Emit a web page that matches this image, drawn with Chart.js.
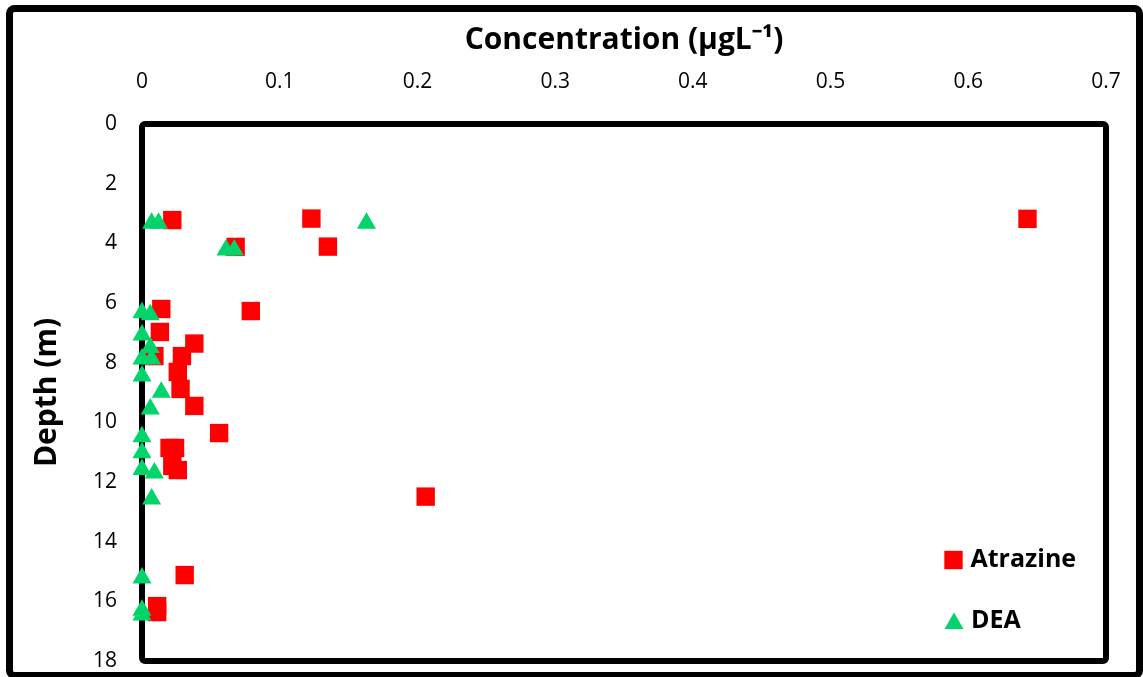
<!DOCTYPE html>
<html>
<head>
<meta charset="utf-8">
<script src="https://cdn.jsdelivr.net/npm/chart.js@4"></script>
<style>
  body { margin: 0; background: #fff; }
  #wrap { width: 1143px; height: 677px; position: relative; }
</style>
</head>
<body>
<div id="wrap"><canvas id="depthChart"></canvas></div>
<script>
// values
const atrazineConc = [0.022, 0.123, 0.643, 0.135, 0.068, 0.014, 0.079, 0.013, 0.038, 0.009, 0.029,
  0.026, 0.028, 0.038, 0.056, 0.020, 0.024, 0.022, 0.026, 0.206, 0.031, 0.011, 0.011];
const atrazineDepth = [3.22, 3.17, 3.18, 4.11, 4.12, 6.2, 6.27, 6.97, 7.36, 7.78, 7.78,
  8.31, 8.88, 9.45, 10.36, 10.86, 10.86, 11.46, 11.6, 12.49, 15.12, 16.16, 16.36];

const deaConc = [0.007, 0.012, 0.163, 0.061, 0.067, 0, 0.006, 0, 0.006, 0, 0.007,
  0, 0.014, 0.006, 0, 0, 0, 0.009, 0.007, 0, 0, 0];
const deaDepth = [3.33, 3.33, 3.33, 4.22, 4.22, 6.33, 6.39, 7.07, 7.49, 7.88, 7.88,
  8.45, 8.99, 9.55, 10.48, 11.02, 11.58, 11.7, 12.57, 15.22, 16.3, 16.46];

const xTickLabels = ['0', '0.1', '0.2', '0.3', '0.4', '0.5', '0.6', '0.7'];
const yTickLabels = ['0', '2', '4', '6', '8', '10', '12', '14', '16', '18'];

const RED = '#FF0000';
const GREEN = '#00D46A';

function pairs(xs, ys) {
  return xs.map((v, i) => ({ x: v, y: ys[i] }));
}

function labelFor(list, v) {
  return list.find(t => Math.abs(Number(t) - v) < 1e-6) ?? '';
}

// plot box and picture frame
const framePlugin = {
  id: 'frames',
  beforeDatasetsDraw(chart) {
    const { ctx, chartArea: a } = chart;
    ctx.save();
    ctx.strokeStyle = '#000';
    ctx.lineWidth = 6;
    ctx.beginPath();
    ctx.roundRect(a.left, a.top, a.right - a.left, a.bottom - a.top, 3);
    ctx.stroke();
    ctx.lineWidth = 7;
    ctx.beginPath();
    ctx.roundRect(9.5, 8.5, 1130, 667, 5);
    ctx.stroke();
    ctx.restore();
  }
};

// legend inside the plot, lower right
const legendPlugin = {
  id: 'cornerLegend',
  afterDatasetsDraw(chart) {
    const { ctx } = chart;
    const spots = [{ x: 953.5, y: 560 }, { x: 954, y: 623.5 }];
    ctx.save();
    chart.data.datasets.forEach((ds, i) => {
      const p = spots[i];
      ctx.fillStyle = ds.backgroundColor;
      ctx.strokeStyle = ds.borderColor;
      Chart.helpers.drawPoint(ctx, {
        pointStyle: ds.pointStyle, radius: ds.pointRadius, rotation: 0, borderWidth: 0
      }, p.x, p.y);
      ctx.fillStyle = '#000';
      ctx.font = 'bold 25px "Open Sans"';
      ctx.textBaseline = 'middle';
      ctx.textAlign = 'left';
      ctx.fillText(ds.label, p.x + 17, i === 0 ? p.y : p.y - 2.5);
    });
    ctx.restore();
  }
};

new Chart(document.getElementById('depthChart'), {
  type: 'scatter',
  data: {
    datasets: [
      {
        label: 'Atrazine',
        data: pairs(atrazineConc, atrazineDepth),
        pointStyle: 'rect',
        pointRadius: 13,
        backgroundColor: RED,
        borderColor: RED,
        borderWidth: 0,
        order: 1,
        clip: false
      },
      {
        label: 'DEA',
        data: pairs(deaConc, deaDepth),
        pointStyle: 'triangle',
        pointRadius: 11,
        backgroundColor: GREEN,
        borderColor: GREEN,
        borderWidth: 0,
        order: 0,
        clip: false
      }
    ]
  },
  options: {
    responsive: true,
    maintainAspectRatio: false,
    animation: false,
    layout: { padding: { left: 0, top: 0, right: 37, bottom: 16 } },
    plugins: {
      legend: { display: false },
      tooltip: { enabled: false }
    },
    scales: {
      x: {
        type: 'linear',
        position: 'top',
        min: 0,
        max: 0.7,
        grid: { display: false, drawTicks: false },
        border: { display: false },
        ticks: {
          stepSize: 0.1,
          padding: 29,
          color: '#000',
          font: { family: 'Open Sans', size: 21 },
          callback: v => labelFor(xTickLabels, v)
        },
        title: {
          display: true,
          text: 'Concentration (µgL⁻¹)',
          color: '#000',
          font: { family: 'Open Sans', size: 30, weight: 'bold' },
          padding: { top: 22, bottom: 0 }
        },
        afterFit: s => { s.height = 124; s.paddingLeft = 0; s.paddingRight = 0; }
      },
      y: {
        type: 'linear',
        reverse: true,
        min: 0,
        max: 18,
        grid: { display: false, drawTicks: false },
        border: { display: false },
        ticks: {
          stepSize: 2,
          padding: 25,
          color: '#000',
          font: { family: 'Open Sans', size: 21 },
          callback: v => labelFor(yTickLabels, v)
        },
        title: {
          display: true,
          text: 'Depth (m)',
          color: '#000',
          font: { family: 'Open Sans', size: 30, weight: 'bold' },
          padding: { top: 29, bottom: 0 }
        },
        afterFit: s => { s.width = 142; s.paddingTop = 0; s.paddingBottom = 0; }
      }
    }
  },
  plugins: [framePlugin, legendPlugin]
});
</script>
</body>
</html>
